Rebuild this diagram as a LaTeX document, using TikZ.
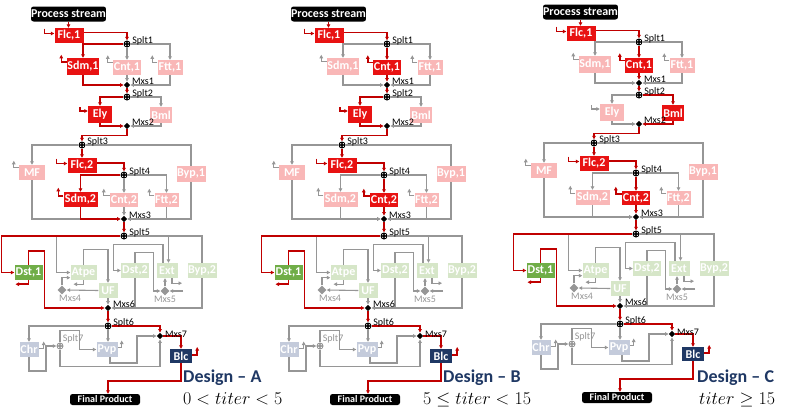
\documentclass[tikz,border=0pt]{standalone}
\usepackage{fix-cm}
\usepackage{fontspec}
\setmainfont{Carlito}
\usetikzlibrary{arrows.meta,calc,shapes.geometric}
\pgfdeclarelayer{back}
\pgfdeclarelayer{bg}
\pgfsetlayers{back,bg,main}
\definecolor{cRed}{RGB}{232,18,18}
\definecolor{cPink}{RGB}{249,183,183}
\definecolor{cLine}{RGB}{192,0,0}
\definecolor{cGray}{RGB}{150,150,150}
\definecolor{cGreen}{RGB}{112,173,71}
\definecolor{cLGreen}{RGB}{214,230,200}
\definecolor{cBlueGray}{RGB}{196,203,219}
\definecolor{cNavy}{RGB}{31,56,100}
\tikzset{
 ubox/.style={rectangle, inner sep=0pt, text=white, font=\fontsize{12}{12}\selectfont\bfseries},
 onbox/.style={ubox, fill=cRed},
 offbox/.style={ubox, fill=cPink},
 greenbox/.style={ubox, fill=cGreen},
 lgbox/.style={ubox, fill=cLGreen},
 bgbox/.style={ubox, fill=cBlueGray},
 navybox/.style={ubox, fill=cNavy},
 blackbox/.style={ubox, fill=black, rounded corners=2.5pt},
 arrowtip/.style={-{Triangle[length=3.5pt,width=3.5pt]}},
 onln/.style={draw=cLine, line width=1.5pt},
 offln/.style={draw=cGray, line width=1.1pt},
 splitter/.style={circle, fill=black, minimum size=7pt, inner sep=0pt,
   path picture={\foreach \dx/\dy in {1.3/1.3,-1.3/1.3,1.3/-1.3,-1.3/-1.3}{\fill[white] ([xshift=\dx pt,yshift=\dy pt]path picture bounding box.center) circle[radius=0.65pt];}}},
 gsplitter/.style={splitter, fill=cGray},
 mixer/.style={diamond, aspect=1, fill=black, minimum size=6.5pt, inner sep=0pt},
 gmixer/.style={diamond, aspect=1, fill=cGray, minimum size=9pt, inner sep=0pt},
 lbl/.style={font=\fontsize{10}{10}\selectfont, inner sep=0pt, xshift=1.5pt, yshift=3.5pt},
 glbl/.style={font=\fontsize{10}{10}\selectfont, text=cGray, inner sep=0pt},
 design/.style={font=\fontsize{18}{18}\selectfont\bfseries, text=cNavy, inner sep=0pt, anchor=base west},
 cond/.style={font=\fontsize{18}{18}\selectfont, inner sep=0pt, anchor=base west},
}
\newcommand\setunit[2]{\tikzset{#1box/.style={#2box}, #1ln/.style={#2ln}}}
\newcommand\drawpanel[3]{%
\begin{scope}[shift={(#2,#3)}]
% ---------- units
\node[blackbox, minimum width=74pt, minimum height=15pt] (#1ps) at (68.5,14) {Process stream};
\node[onbox, minimum width=29pt, minimum height=15pt] (#1flc1) at (69,35.5) {Flc,1};
\node[sdmIbox, minimum width=31pt, minimum height=17pt] (#1sdm1) at (83,66.5) {Sdm,1};
\node[cntIbox, minimum width=28pt, minimum height=15pt] (#1cnt1) at (127,67.5) {Cnt,1};
\node[offbox, minimum width=25pt, minimum height=15pt] (#1ftt1) at (170,67.5) {Ftt,1};
\node[elybox, minimum width=24pt, minimum height=17pt] (#1ely) at (100,114.5) {Ely};
\node[bmlbox, minimum width=22pt, minimum height=16pt] (#1bml) at (161,115) {Bml};
\node[offbox, minimum width=26pt, minimum height=15pt] (#1mf) at (32,172.5) {MF};
\node[onbox, minimum width=29pt, minimum height=15pt] (#1flc2) at (82,165.5) {Flc,2};
\node[sdmIIbox, minimum width=34pt, minimum height=15pt] (#1sdm2) at (80.5,199.5) {Sdm,2};
\node[cntIIbox, minimum width=28pt, minimum height=14pt] (#1cnt2) at (124,200) {Cnt,2};
\node[offbox, minimum width=24pt, minimum height=14pt] (#1ftt2) at (166.5,200) {Ftt,2};
\node[offbox, minimum width=29pt, minimum height=16pt] (#1byp1) at (191,174) {Byp,1};
\node[greenbox, minimum width=28pt, minimum height=15pt] (#1dst1) at (28.5,272.5) {Dst,1};
\node[lgbox, minimum width=26pt, minimum height=15pt] (#1atpe) at (83.5,272.5) {Atpe};
\node[lgbox, minimum width=19pt, minimum height=15pt] (#1uf) at (108,290.5) {UF};
\node[lgbox, minimum width=28pt, minimum height=15pt] (#1dst2) at (135,270.5) {Dst,2};
\node[lgbox, minimum width=21pt, minimum height=15pt] (#1ext) at (167,270.5) {Ext};
\node[lgbox, minimum width=29pt, minimum height=15pt] (#1byp2) at (202,270.5) {Byp,2};
\node[bgbox, minimum width=19pt, minimum height=15pt] (#1chr) at (29,349.5) {Chr};
\node[bgbox, minimum width=21pt, minimum height=15pt] (#1pvp) at (107,349.5) {Pvp};
\node[navybox, minimum width=22pt, minimum height=14pt] (#1blc) at (181,356) {Blc};
\node[blackbox, minimum width=70pt, minimum height=11pt, font=\fontsize{10}{10}\selectfont\bfseries] (#1fp) at (105,399.5) {Final Product};
% ---------- splitters and mixers
\node[splitter, label={[lbl]0:Splt1}] (#1splt1) at (127,44) {};
\node[mixer, label={[lbl]0:Mxs1}] (#1mxs1) at (127,85) {};
\node[splitter, label={[lbl]0:Splt2}] (#1splt2) at (127,97) {};
\node[mixer, label={[lbl]0:Mxs2}] (#1mxs2) at (127,126) {};
\node[splitter, label={[lbl]0:Splt3}] (#1splt3) at (82,145) {};
\node[splitter, label={[lbl]0:Splt4}] (#1splt4) at (124,175) {};
\node[mixer, label={[lbl]0:Mxs3}] (#1mxs3) at (124,219) {};
\node[splitter, label={[lbl]0:Splt5}] (#1splt5) at (124,236) {};
\node[gmixer, label={[glbl, anchor=north west, xshift=-3pt]-90:Mxs4}] (#1mxs4) at (62,290) {};
\node[gmixer, label={[glbl]-90:Mxs5}] (#1mxs5) at (165,291) {};
\node[mixer, label={[lbl]0:Mxs6}] (#1mxs6) at (108,308) {};
\node[splitter, label={[lbl]0:Splt6}] (#1splt6) at (108,326) {};
\node[gsplitter, label={[glbl]45:Splt7}] (#1splt7) at (60,346) {};
\node[mixer, label={[lbl, yshift=-2pt]0:Mxs7}] (#1mxs7) at (160,336) {};
\coordinate (#1mfivein) at (183,291);
% ---------- connectors
\begin{pgfonlayer}{bg}
% fixed grey
\draw[offln,arrowtip] (#1splt1.east) -| (#1ftt1.north);
\draw[offln,arrowtip] ($(#1ftt1.north west)+(0,2.5)$) -- ++(-5,0) -- ++(0,-7);
\draw[offln,arrowtip] (#1ftt1.south) |- (#1mxs1.east);
\draw[offln,arrowtip] (#1splt3.west) -| (#1mf.north);
\draw[offln] (#1splt3.east) -| (#1byp1.north);
\draw[offln,arrowtip] ($(#1mf.north west)+(0,3)$) -- ++(-5,0) -- ++(0,-7);
\draw[offln,arrowtip] (#1mf.south) |- (#1mxs3.west);
\draw[offln,arrowtip] (#1byp1.south) |- (#1mxs3.east);
\draw[offln,arrowtip] (#1splt4.east) -| (#1ftt2.north);
\draw[offln,arrowtip] ($(#1ftt2.north west)+(0,3)$) -- ++(-5,0) -- ++(0,-7);
\draw[offln,arrowtip] (#1ftt2.south) |- (#1mxs3.east);
\draw[offln,arrowtip] (#1splt5.west) -| ($(#1atpe.west)+(-14,0)$) -- (#1atpe.west);
\draw[offln,arrowtip] (#1splt5.east) -| ($(#1ext.north)+(1.5,0)$);
\draw[offln,arrowtip] (#1splt5.east) -| (#1byp2.center) |- (#1mxs6.east);
\draw[offln,arrowtip] (#1atpe.north) -- ++(0,-15) -| (#1uf.north);
\draw[offln,arrowtip] (#1atpe.south) -- ++(0,4) -- ++(-10,0);
\draw[offln,arrowtip] (#1uf.west) -- (#1mxs4.east);
\draw[offln,arrowtip] (#1mxs4.north) |- ($(#1atpe.south west)+(0,-2.5)$);
\draw[offln,arrowtip] (#1uf.south) -- (#1mxs6.north);
\draw[offln,arrowtip] ($(#1ext.north)+(-4,0)$) -- ++(0,-18) -| ($(#1dst2.west)+(-7,0)$) -- (#1dst2.west);
\draw[offln,arrowtip] (#1dst2.north) -- ++(0,-10) -| ($(#1mxs5.west)+(-7,0)$) -- (#1mxs5.west);
\draw[offln] (#1dst2.south) -- (#1dst2.south |- #1mxs6);
\draw[offln,arrowtip] (#1mxs5.north) -- (#1mxs5.north |- #1ext.south);
\draw[offln,arrowtip] ($(#1ext.south)+(5,0)$) -- ++(0,5) -- ++(10,0);
\draw[offln,arrowtip] (#1mfivein) -- (#1mxs5.east);
\draw[offln,arrowtip] (#1splt6.west) -| (#1chr.north);
\draw[offln,arrowtip] (#1splt6.south) -- (#1splt6.south |- #1pvp.north);
\draw[offln,arrowtip] ($(#1chr.east)+(0,-1)$) -- ++(5,0) -- ++(0,-7);
\draw[offln,arrowtip] (#1chr.south) |- ($(#1splt7)+(-14,25)$) |- (#1splt7.west);
\draw[offln,arrowtip] (#1splt7.north) -- ++(0,-12) -| ($(#1pvp.west)+(-17,0)$) -- (#1pvp.west);
\draw[offln,arrowtip] (#1splt7.south) -- ++(0,17) -| (#1mxs7.south);
\draw[offln,arrowtip] ($(#1pvp.east)+(0,-2)$) -- ++(4,0) -- ++(0,-7);
\draw[offln,arrowtip] ($(#1pvp.south)+(3,0)$) |- ($(#1mxs7)+(-23,27)$) |- (#1mxs7.west);
% switchable
\draw[sdmIln,arrowtip] (#1splt1.west) -| (#1sdm1.north);
\draw[sdmIln,arrowtip] ($(#1sdm1.north west)+(0,4)$) -- ++(-6,0) -- ++(0,-7);
\draw[sdmIln,arrowtip] (#1sdm1.south) |- (#1mxs1.west);
\draw[cntIln,arrowtip] (#1splt1.south) -- (#1cnt1.north);
\draw[cntIln,arrowtip] ($(#1cnt1.north west)+(0,2.5)$) -- ++(-5,0) -- ++(0,-7);
\draw[cntIln,arrowtip] (#1cnt1.south) -- (#1mxs1.north);
\draw[elyln,arrowtip] (#1splt2.west) -| (#1ely.north);
\draw[elyln,arrowtip] ($(#1ely.west)+(-8,-7.5)$) |- ($(#1ely.west)+(0,-3.5)$);
\draw[elyln,arrowtip] (#1ely.south) |- (#1mxs2.west);
\draw[bmlln,arrowtip] (#1splt2.east) -| (#1bml.north);
\draw[bmlln,arrowtip] (#1bml.south) |- (#1mxs2.east);
\draw[sdmIIln,arrowtip] (#1splt4.west) -| (#1sdm2.north);
\draw[sdmIIln,arrowtip] ($(#1sdm2.north west)+(0,4)$) -- ++(-5,0) -- ++(0,-8);
\draw[sdmIIln,arrowtip] (#1sdm2.south) |- (#1mxs3.west);
\draw[cntIIln,arrowtip] (#1splt4.south) -- (#1cnt2.north);
\draw[cntIIln,arrowtip] ($(#1cnt2.north west)+(0,3)$) -- ++(-6,0) -- ++(0,-7);
\draw[cntIIln,arrowtip] (#1cnt2.south) -- (#1mxs3.north);
% fixed red
\draw[onln,arrowtip] (#1ps.south) -- (#1ps.south |- #1flc1.north);
\draw[onln,arrowtip] ($(#1flc1.west)+(-10,-7)$) |- ($(#1flc1.west)+(0,-2)$);
\draw[onln,arrowtip] ($(#1flc1.east)+(0,-3)$) -| (#1splt1.north);
\draw[onln,arrowtip] (#1mxs1.south) -- (#1splt2.north);
\draw[onln,arrowtip] (#1mxs2.south) -- ++(0,6) -| (#1splt3.north);
\draw[onln,arrowtip] (#1splt3.south) -- (#1flc2.north);
\draw[onln,arrowtip] ($(#1flc2.west)+(-11,-7)$) |- ($(#1flc2.west)+(0,-2)$);
\draw[onln,arrowtip] ($(#1flc2.east)+(0,-2.5)$) -| (#1splt4.north);
\draw[onln,arrowtip] (#1mxs3.south) -- (#1splt5.north);
\draw[onln,arrowtip] (#1splt5.west) -| ($(#1dst1.west)+(-13,0)$) -- (#1dst1.west);
\draw[onln,arrowtip] (#1dst1.south) -- ++(0,4) -- ++(-13,0);
\draw[onln,arrowtip] (#1dst1.north) -- ++(0,-14) -- ++(16,0) |- (#1mxs6.west);
\draw[onln,arrowtip] (#1mxs6.south) -- (#1splt6.north);
\draw[onln,arrowtip] (#1splt6.east) -| (#1mxs7.north);
\draw[onln,arrowtip] (#1mxs7.east) -| (#1blc.north);
\draw[onln,arrowtip] ($(#1blc.east)+(0,-1)$) -- ++(5,0) -- ++(0,-8);
\draw[onln,arrowtip] (#1blc.south) -- ++(0,18) -| ($(#1fp.north)+(3,0)$);
\end{pgfonlayer}
\end{scope}}
\begin{document}
\begin{tikzpicture}[x=1pt,y=-1pt]
\useasboundingbox (0,0) rectangle (785,407);
\begin{pgfonlayer}{back}
\fill[white] (0,0) rectangle (785,407);
\end{pgfonlayer}
% Design A
\setunit{sdmI}{on}\setunit{cntI}{off}\setunit{ely}{on}\setunit{bml}{off}\setunit{sdmII}{on}\setunit{cntII}{off}
\drawpanel{A}{0}{0}
% Design B
\setunit{sdmI}{off}\setunit{cntI}{on}\setunit{ely}{on}\setunit{bml}{off}\setunit{sdmII}{off}\setunit{cntII}{on}
\drawpanel{B}{260}{0}
% Design C
\setunit{sdmI}{off}\setunit{cntI}{on}\setunit{ely}{off}\setunit{bml}{on}\setunit{sdmII}{off}\setunit{cntII}{on}
\drawpanel{C}{512}{-2}
% captions
\node[design] (dA) at (183,382) {Design -- A};
\node[cond] (tA) at (183,404.5) {$0 < titer < 5$};
\node[design] (dB) at (443,382) {Design -- B};
\node[cond] (tB) at (423,404.5) {$5 \leq titer < 15$};
\node[design] (dC) at (697,382) {Design -- C};
\node[cond] (tC) at (699,404.5) {$titer \geq 15$};
\end{tikzpicture}
\end{document}
